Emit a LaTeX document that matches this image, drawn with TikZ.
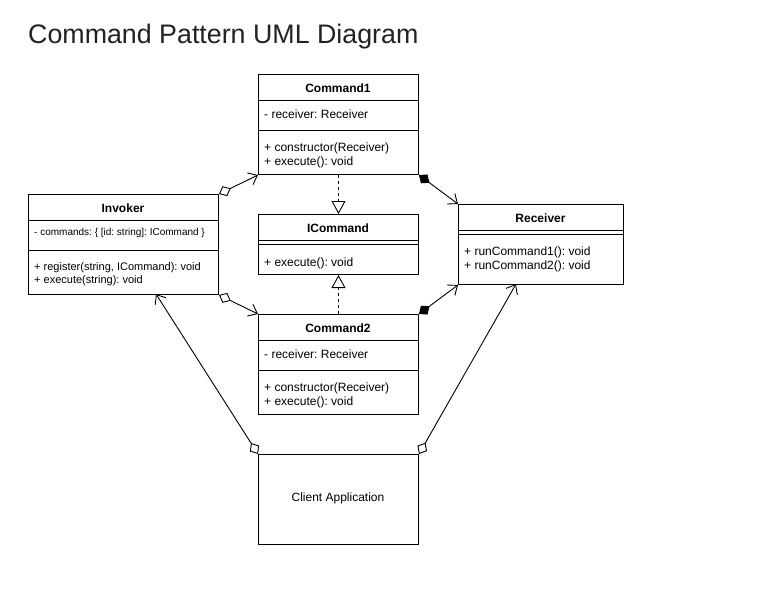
\documentclass[tikz,border=0pt]{standalone}
\usepackage{fontspec}
\setmainfont{Liberation Sans}
\usetikzlibrary{arrows.meta}
\definecolor{titlegray}{HTML}{222222}
\frenchspacing
\begin{document}
\begin{tikzpicture}[x=1pt,y=-1pt,
  cls/.style={draw, line width=1pt, fill=white, inner sep=0pt, anchor=north west},
  hdr/.style={font=\bfseries\fontsize{12}{14}\selectfont, inner sep=0pt},
  txt/.style={font=\fontsize{12}{14}\selectfont, anchor=west, inner sep=0pt},
  mtxt/.style={font=\fontsize{11}{13}\selectfont, anchor=west, inner sep=0pt},
  stxt/.style={font=\fontsize{10}{12}\selectfont, anchor=west, inner sep=0pt},
  sep/.style={line width=1pt},
  conn/.style={line width=0.9pt},
  agg/.style={conn, {Diamond[open,length=13pt,width=11pt]}-{Straight Barb[length=8pt,width=13pt]}},
  comp/.style={conn, {Diamond[length=13pt,width=11pt]}-{Straight Barb[length=8pt,width=13pt]}},
  real/.style={conn, dash pattern=on 3pt off 3pt, -{Triangle[open,length=13pt,width=14pt]}}
]
\useasboundingbox (0,0) rectangle (780,598);

\node[anchor=base west, inner sep=0pt, text=titlegray, font=\fontsize{26.8}{32}\selectfont] (title) at (28,43) {Command Pattern UML Diagram};

% Command1
\node[cls, minimum width=160pt, minimum height=100pt] (c1) at (258,74) {};
\draw[sep] (258,100) -- (418,100);
\draw[sep] (258,130) -- (418,130);
\node[hdr] (c1h) at (338,88) {Command1};
\node[txt] (c1a) at (264,114) {- receiver: Receiver};
\node[txt] (c1m1) at (264,148) {+ constructor(Receiver)};
\node[txt] (c1m2) at (264,162) {+ execute(): void};

% ICommand
\node[cls, minimum width=160pt, minimum height=60pt] (ic) at (258,214) {};
\draw[sep] (258,240) -- (418,240);
\draw[sep] (258,244) -- (418,244);
\node[hdr] (ich) at (338,228) {ICommand};
\node[txt] (icm) at (264,263) {+ execute(): void};

% Command2
\node[cls, minimum width=160pt, minimum height=100pt] (c2) at (258,314) {};
\draw[sep] (258,340) -- (418,340);
\draw[sep] (258,370) -- (418,370);
\node[hdr] (c2h) at (338,328) {Command2};
\node[txt] (c2a) at (264,354) {- receiver: Receiver};
\node[txt] (c2m1) at (264,388) {+ constructor(Receiver)};
\node[txt] (c2m2) at (264,402) {+ execute(): void};

% Invoker
\node[cls, minimum width=190pt, minimum height=100pt] (inv) at (28,194) {};
\draw[sep] (28,220) -- (218,220);
\draw[sep] (28,250) -- (218,250);
\node[hdr] (invh) at (123,208) {Invoker};
\node[stxt] (inva) at (34,233) {- commands: \{ [id: string]: ICommand \}};
\node[mtxt] (invm1) at (34,268) {+ register(string, ICommand): void};
\node[mtxt] (invm2) at (34,281) {+ execute(string): void};

% Receiver
\node[cls, minimum width=165pt, minimum height=80pt] (rc) at (458,204) {};
\draw[sep] (458,230) -- (623,230);
\draw[sep] (458,234) -- (623,234);
\node[hdr] (rch) at (540.5,218) {Receiver};
\node[txt] (rcm1) at (464,252) {+ runCommand1(): void};
\node[txt] (rcm2) at (464,266) {+ runCommand2(): void};

% Client
\node[cls, minimum width=160pt, minimum height=90pt] (cl) at (258,454) {};
\node[font=\fontsize{12}{14}\selectfont, inner sep=0pt] (clt) at (338,498) {Client Application};

% connectors
\coordinate (invb) at (156,294);
\coordinate (rcb) at (516,284);
\draw[agg] (inv.north east) -- (c1.south west);
\draw[agg] (inv.south east) -- (c2.north west);
\draw[comp] (c1.south east) -- (rc.north west);
\draw[comp] (c2.north east) -- (rc.south west);
\draw[real] (c1.south) -- (ic.north);
\draw[real] (c2.north) -- (ic.south);
\draw[agg] (cl.north west) -- (invb);
\draw[agg] (cl.north east) -- (rcb);
\end{tikzpicture}
\end{document}
